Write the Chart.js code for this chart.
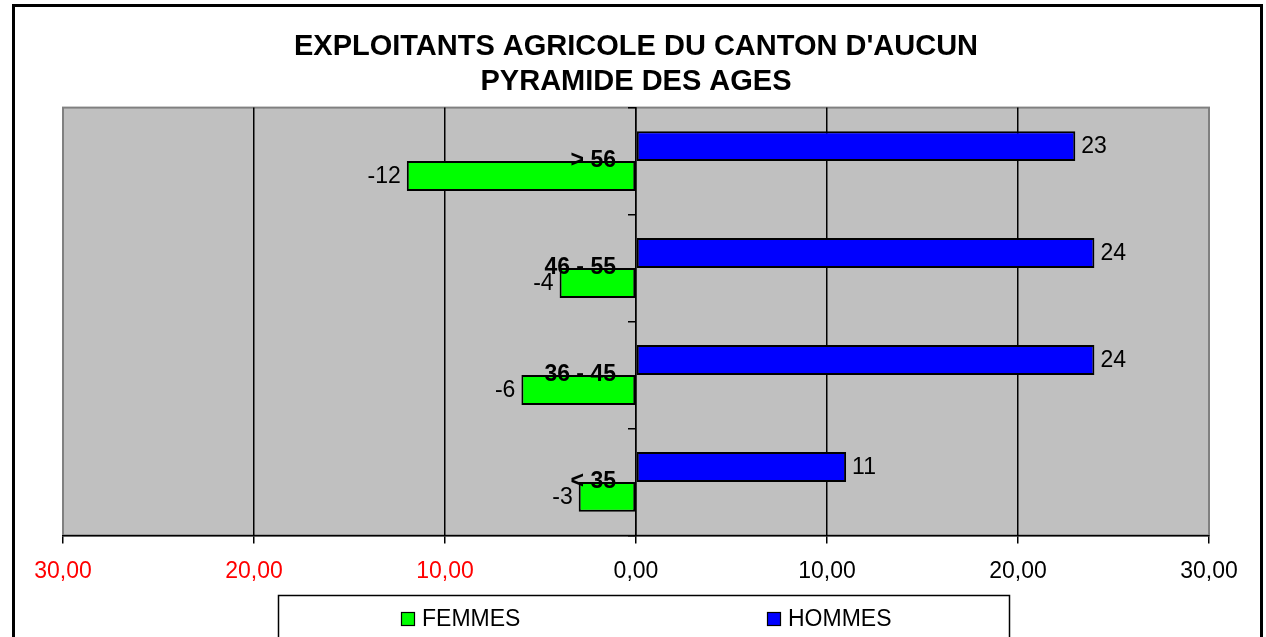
<!DOCTYPE html>
<html lang="fr">
<head>
  <meta charset="UTF-8">
  <title>Pyramide des ages</title>
  <style>
    body { margin: 0; background: #fff; }
    #wrap { width: 1266px; height: 637px; }
  </style>
</head>
<body>
  <div id="wrap"><canvas id="pyramide"></canvas></div>

  <script src="https://cdn.jsdelivr.net/npm/chart.js"></script>
  <script>
    // data
    const ageGroups = ['> 56', '46 - 55', '36 - 45', '< 35'];
    const hommes = [23, 24, 24, 11];
    const femmes = [-12, -4, -6, -3];
    const axisTicks = [-30, -20, -10, 0, 10, 20, 30];
    const titleLines = ["EXPLOITANTS AGRICOLE DU CANTON D'AUCUN", 'PYRAMIDE DES AGES'];

    const family = '"Liberation Sans", Arial, sans-serif';

    // grey plot background + outer frame of the whole picture
    const plotFrame = {
      id: 'plotFrame',
      beforeDraw(chart) {
        const { ctx, chartArea: a } = chart;
        ctx.save();
        ctx.fillStyle = '#c0c0c0';
        ctx.fillRect(a.left, a.top, a.right - a.left, a.bottom - a.top);
        ctx.strokeStyle = '#808080';
        ctx.lineWidth = 2;
        ctx.strokeRect(a.left, a.top, a.right - a.left, a.bottom - a.top);
        ctx.restore();
      },
      afterDraw(chart) {
        const ctx = chart.ctx;
        ctx.save();
        ctx.strokeStyle = '#000';
        ctx.lineWidth = 3;
        ctx.strokeRect(13.5, 5.5, 1248, 700);
        ctx.restore();
      }
    };

    // value written at the end of each bar
    const valueLabels = {
      id: 'valueLabels',
      afterDatasetsDraw(chart) {
        const ctx = chart.ctx;
        ctx.save();
        ctx.font = '23px ' + family;
        ctx.fillStyle = '#000';
        ctx.textBaseline = 'middle';
        chart.data.datasets.forEach((ds, i) => {
          chart.getDatasetMeta(i).data.forEach((bar, j) => {
            const v = ds.data[j];
            ctx.textAlign = v < 0 ? 'right' : 'left';
            ctx.fillText(String(v), bar.x + (v < 0 ? -6 : 6), bar.y + 1);
          });
        });
        ctx.restore();
      }
    };

    // boxed legend at the bottom (femmes first, like the original)
    const boxLegend = {
      id: 'boxLegend',
      afterDraw(chart) {
        const ctx = chart.ctx;
        const xs = [401, 767];
        ctx.save();
        ctx.strokeStyle = '#000';
        ctx.lineWidth = 1.5;
        ctx.strokeRect(278.5, 595.5, 731, 60);
        ctx.font = '23px ' + family;
        ctx.textBaseline = 'middle';
        ctx.textAlign = 'left';
        chart.data.datasets.slice().reverse().forEach((ds, i) => {
          ctx.fillStyle = ds.backgroundColor;
          ctx.fillRect(xs[i], 612, 13, 13);
          ctx.lineWidth = 1.2;
          ctx.strokeRect(xs[i] + 0.5, 612.5, 13, 13);
          ctx.fillStyle = '#000';
          ctx.fillText(ds.label, xs[i] + 21, 620);
        });
        ctx.restore();
      }
    };

    new Chart(document.getElementById('pyramide'), {
      type: 'bar',
      data: {
        labels: ageGroups,
        datasets: [
          { label: 'HOMMES', data: hommes, backgroundColor: '#0000ff', borderColor: '#000', borderWidth: 2, borderSkipped: false },
          { label: 'FEMMES', data: femmes, backgroundColor: '#00ff00', borderColor: '#000', borderWidth: 2, borderSkipped: false }
        ]
      },
      options: {
        responsive: true,
        maintainAspectRatio: false,
        animation: false,
        indexAxis: 'y',
        layout: { padding: { left: 63, right: 57, top: 0, bottom: 38 } },
        datasets: { bar: { categoryPercentage: 0.56, barPercentage: 1 } },
        plugins: {
          legend: { display: false },
          tooltip: { enabled: false },
          title: {
            display: true,
            text: titleLines,
            color: '#000',
            font: { family: family, size: 29, weight: 'bold', lineHeight: 1.2 },
            padding: { top: 30, bottom: 8 }
          }
        },
        scales: {
          x: {
            type: 'linear',
            min: -30,
            max: 30,
            afterBuildTicks: axis => { axis.ticks = axisTicks.map(v => ({ value: v })); },
            grid: {
              color: c => (c.tick && Math.abs(c.tick.value) === 30) ? '#808080' : '#000',
              lineWidth: 1.5,
              tickColor: '#000',
              tickLength: 8,
              tickWidth: 1.5
            },
            border: { color: '#000', width: 1.5 },
            ticks: {
              color: c => (c.tick && c.tick.value < 0) ? '#ff0000' : '#000',
              font: { family: family, size: 23 },
              padding: 14,
              maxRotation: 0,
              callback: v => Math.abs(v).toFixed(2).replace('.', ',')
            }
          },
          y: {
            type: 'category',
            position: 'center',
            grid: { drawOnChartArea: false, offset: true, tickLength: 7, color: '#000', lineWidth: 1.5 },
            border: { color: '#000', width: 1.5, z: 1 },
            ticks: {
              z: 1,
              color: '#000',
              font: { family: family, size: 23, weight: 'bold' },
              padding: 13
            }
          }
        }
      },
      plugins: [plotFrame, valueLabels, boxLegend]
    });
  </script>
</body>
</html>
